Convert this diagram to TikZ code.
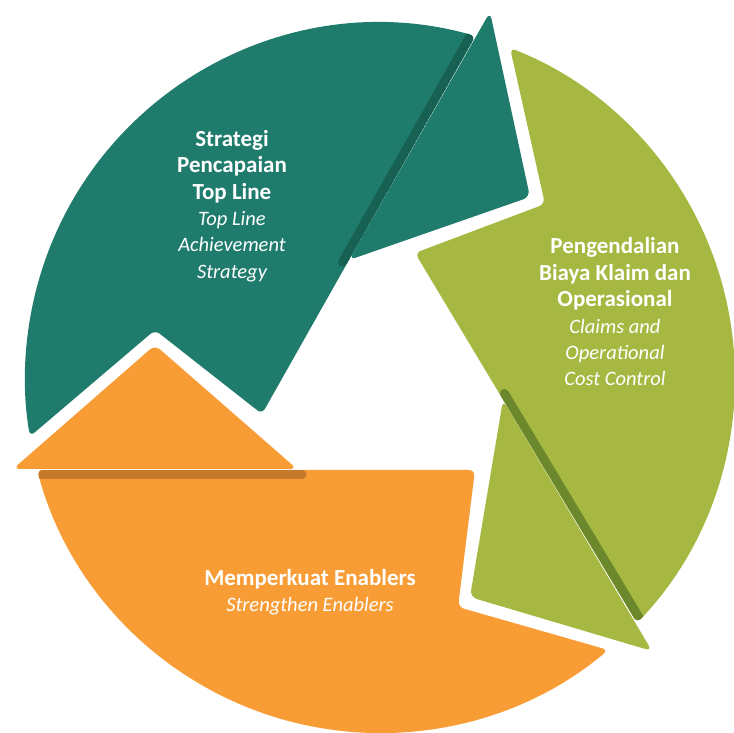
\documentclass[tikz,border=0pt]{standalone}
\usepackage{fontspec}
\setmainfont{Carlito}
\definecolor{topline}{RGB}{31,123,108}
\definecolor{toplinedark}{RGB}{22,97,82}
\definecolor{costctrl}{RGB}{166,184,66}
\definecolor{costctrldark}{RGB}{108,136,44}
\definecolor{enabler}{RGB}{248,156,54}
\definecolor{enablerdark}{RGB}{196,121,44}
\newcommand{\engl}[1]{{\fontsize{20.5}{26.4}\selectfont\mdseries\itshape #1}}

\begin{document}
\begin{tikzpicture}[x=1pt,y=1pt,
		body/.style={fill=#1, rounded corners=6pt},
		head/.style={fill=#1, rounded corners=7pt},
		fold/.style={draw=#1, line width=9pt, line cap=round},
		title/.style={text=white, align=center, inner sep=0pt,
			font=\fontsize{23}{26.4}\selectfont\bfseries}]
	\useasboundingbox (-380,-355) rectangle (354,378);
	% bodies: chord -- outer arc -- notch
	\path[body=topline, path picture={\draw[fold=toplinedark] (-37.4,115.8) -- (101.4,361.6);}]
		(-118,-36) -- (95.5,342) arc[start angle=74.4, end angle=189.5, radius=355] -- (-225,48) -- cycle;
	\path[body=costctrl, path picture={\draw[fold=costctrldark] (124.3,-15.4) -- (271.2,-259.9);}]
		(35,125) -- (257,-245) arc[start angle=-43.6, end angle=68.5, radius=355] -- (165,174) -- cycle;
	\path[body=enabler, path picture={\draw[fold=enablerdark] (-78,-96.5) -- (-360,-96.5);}]
		(95,-92) -- (-342.9,-91.9) arc[start angle=195, end angle=310, radius=355] -- (78,-229) -- cycle;
	% heads
	\path[head=topline] (110,366) -- (150,181) -- (-31,118) -- cycle;
	\path[head=costctrl] (272,-273) -- (90,-219) -- (123,-22) -- cycle;
	\path[head=enabler] (-367,-91) -- (-225,33) -- (-83,-91) -- cycle;
	% labels
	\node[title] (toplinetext) at (-148,172)
		{Strategi\\Pencapaian\\Top Line\\\engl{Top Line}\\\engl{Achievement}\\\engl{Strategy}};
	\node[title] (costctrltext) at (235,66)
		{Pengendalian\\Biaya Klaim dan\\Operasional\\\engl{Claims and}\\\engl{Operational}\\\engl{Cost Control}};
	\node[title] (enablertext) at (-70,-214)
		{Memperkuat Enablers\\\engl{Strengthen Enablers}};
\end{tikzpicture}
\end{document}
